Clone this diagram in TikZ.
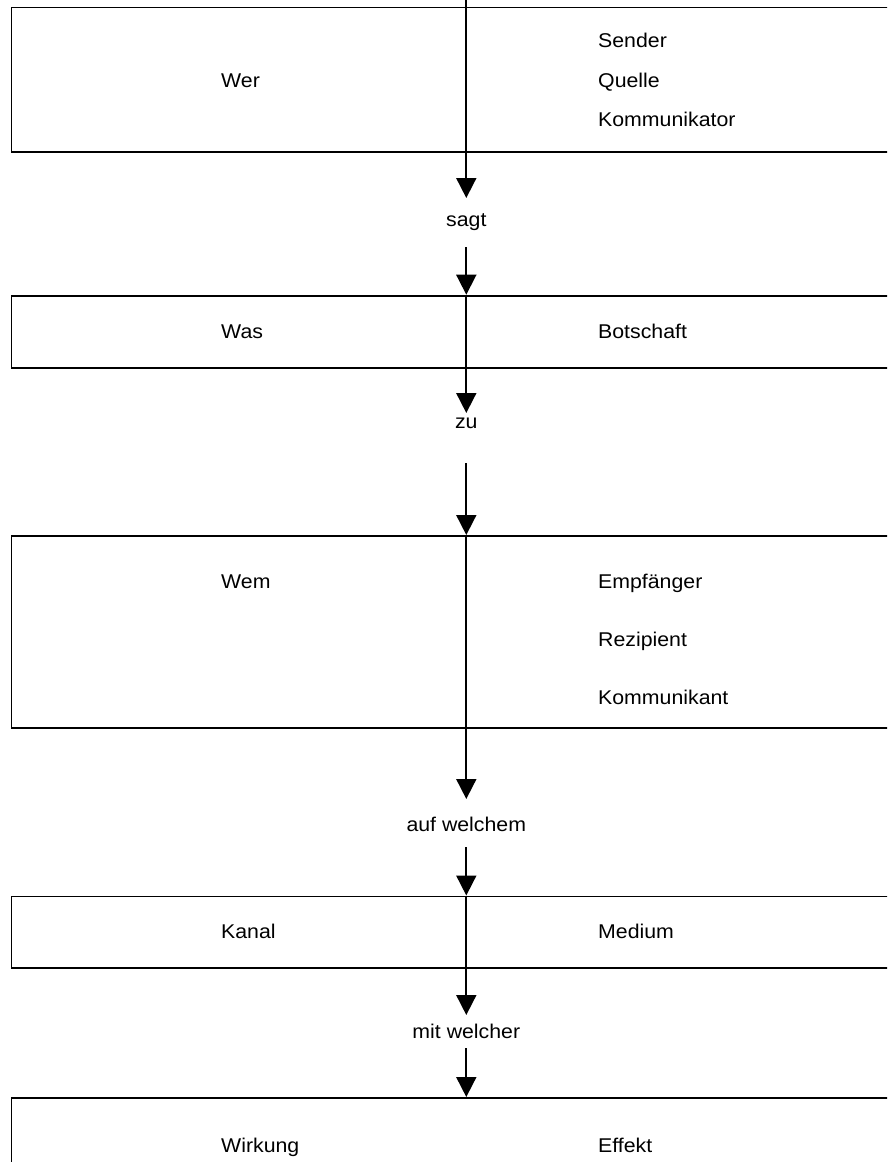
\documentclass[tikz,border=0pt]{standalone}
\usepackage{fontspec}
\setmainfont[FakeStretch=1.07]{Liberation Sans}
\usetikzlibrary{arrows.meta}
\begin{document}
\begin{tikzpicture}[x=1pt,y=-1pt,
  box/.style={draw, line width=1.8pt, rectangle, anchor=north west, minimum width=1000pt, inner sep=0pt},
  txt/.style={anchor=base west, inner sep=0pt, font=\fontsize{19.9}{23}\selectfont},
  lbl/.style={anchor=base, inner sep=0pt, font=\fontsize{19.9}{23}\selectfont},
  flow/.style={line width=1.8pt, -{Triangle[width=20pt,length=20pt]}}]
\useasboundingbox (0,0) rectangle (887,1162);
\clip (0,0) rectangle (887,1162);
% boxes
\node[box, minimum height=144.2pt] (b1) at (10.5,6.5) {};
\node[box, minimum height=72.3pt] (b2) at (10.5,294.7) {};
\node[box, minimum height=191.7pt] (b3) at (10.5,535) {};
\node[box, minimum height=71.5pt] (b4) at (10.5,895.5) {};
\node[box, minimum height=200pt] (b5) at (10.5,1097) {};
% coordinates on the axis
\coordinate (c0) at (466.3,0);
\coordinate (t1) at (466.3,198);
\coordinate (s1) at (466.3,247);
\coordinate (t2) at (466.3,413);
\coordinate (s2) at (466.3,463);
\coordinate (t3) at (466.3,799);
\coordinate (s3) at (466.3,847);
\coordinate (t4) at (466.3,1015);
\coordinate (s4) at (466.3,1048);
% connectors
\draw[flow] (c0) -- (t1);
\draw[flow] (s1) -- (b2.north -| c0);
\draw[flow] (b2.north -| c0) -- (t2);
\draw[flow] (s2) -- (b3.north -| c0);
\draw[flow] (b3.north -| c0) -- (t3);
\draw[flow] (s3) -- (b4.north -| c0);
\draw[flow] (b4.north -| c0) -- (t4);
\draw[flow] (s4) -- (b5.north -| c0);
% texts
\node[txt] (wer) at (221,87.5) {Wer};
\node[txt] (sender) at (598,47.7) {Sender};
\node[txt] (quelle) at (598,87.3) {Quelle};
\node[txt] (komm) at (598,126) {Kommunikator};
\node[lbl] (sagt) at (466.3,226) {sagt};
\node[txt] (was) at (221,338) {Was};
\node[txt] (botschaft) at (598,338) {Botschaft};
\node[lbl] (zu) at (466.3,428) {zu};
\node[txt] (wem) at (221,588.5) {Wem};
\node[txt] (empf) at (598,588.5) {Empfänger};
\node[txt] (rezi) at (598,646.5) {Rezipient};
\node[txt] (kommt) at (598,704.5) {Kommunikant};
\node[lbl] (auf) at (466.3,831) {auf welchem};
\node[txt] (kanal) at (221,938.5) {Kanal};
\node[txt] (medium) at (598,938.5) {Medium};
\node[lbl] (mit) at (466.3,1038) {mit welcher};
\node[txt] (wirk) at (221,1152) {Wirkung};
\node[txt] (effekt) at (598,1152) {Effekt};
\end{tikzpicture}
\end{document}
